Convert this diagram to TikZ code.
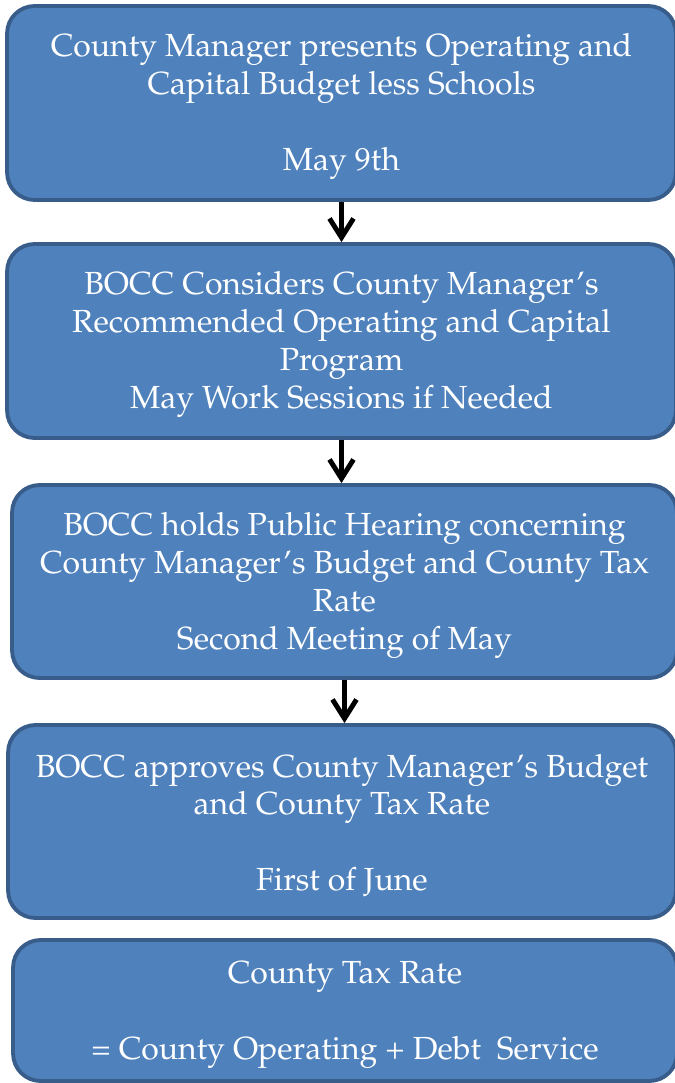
\documentclass[tikz,border=0pt]{standalone}
\usepackage[T1]{fontenc}
\usepackage{mathpazo}
\usetikzlibrary{arrows.meta}

\definecolor{stagefill}{HTML}{4F81BD}
\definecolor{stageline}{HTML}{385D8A}
\newcommand{\lift}{\rule{0pt}{17.5pt}}

\begin{document}
\begin{tikzpicture}[
			x=0.02cm, y=-0.02cm,
			every node/.style={font=\fontsize{18.2}{21.6}\selectfont, text=white, align=center},
			stage/.style={draw=stageline, fill=stagefill, line width=2.2pt, rounded corners=0.55cm, inner sep=0pt},
			to/.style={-{Straight Barb[length=0.38cm, width=0.48cm]}, line width=2.8pt}
			]
			\useasboundingbox (0,0) rectangle (675,1083);
			
			\node[stage, minimum width=13.38cm, minimum height=3.88cm] (manager) at (341.5,103)
			{\lift County Manager presents Operating and\\ Capital Budget less Schools\\[21.6pt] May 9th};
			\node[stage, minimum width=13.38cm, minimum height=3.88cm] (consider) at (341.5,341)
			{\lift BOCC Considers County Manager's\\ Recommended Operating and Capital\\ Program\\ May Work Sessions if Needed};
			\node[stage, minimum width=13.3cm, minimum height=3.86cm] (hearing) at (344.5,581.5)
			{\lift BOCC holds Public Hearing concerning\\ County Manager's Budget and County Tax\\ Rate\\ Second Meeting of May};
			\node[stage, minimum width=13.36cm, minimum height=3.86cm] (approve) at (342,821.5)
			{\lift BOCC approves County Manager's Budget\\ and County Tax Rate\\[21.6pt] First of June};
			\node[stage, minimum width=13.28cm, minimum height=2.82cm] (taxrate) at (345,1010.5)
			{\lift County Tax Rate\\[21.6pt] = County Operating + Debt\ \ Service};
			
			\draw[to] (manager.south) -- (manager.south |- consider.north);
			\draw[to] (consider.south) -- (consider.south |- hearing.north);
			\draw[to] (hearing.south) -- (hearing.south |- approve.north);
			
			\end{tikzpicture}
\end{document}
